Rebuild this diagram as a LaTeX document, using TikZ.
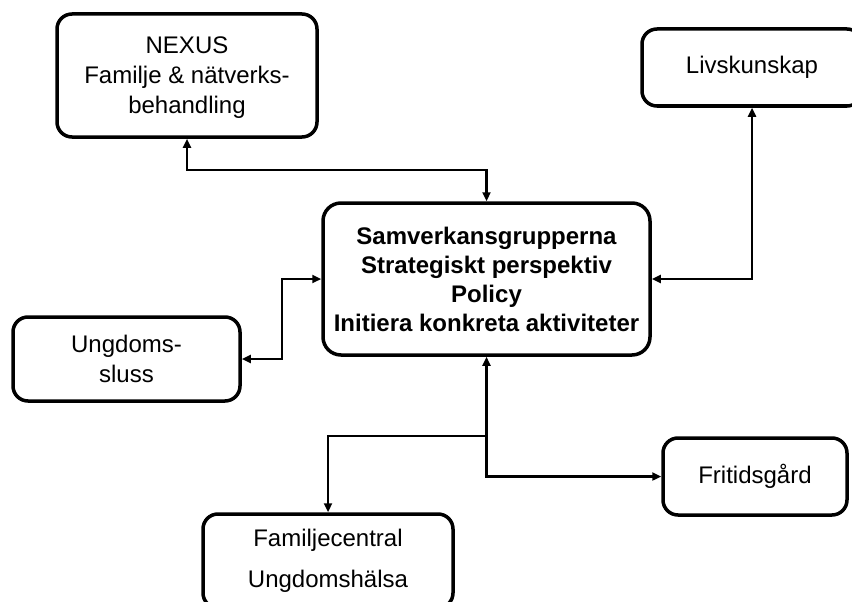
\documentclass[tikz,border=0pt]{standalone}
\usepackage{fontspec}
\setmainfont{Liberation Sans}
\usetikzlibrary{arrows.meta}
\tikzset{
  box/.style={draw, line width=3.5pt, rounded corners=15pt, align=center, inner sep=0pt,
    font=\fontsize{24}{30}\selectfont},
  conn/.style={line width=2.5pt, arrows={Triangle[length=9pt,width=8pt]-Triangle[length=9pt,width=8pt]}},
  conn1/.style={line width=2.5pt, -{Triangle[length=9pt,width=8pt]}}
}
\begin{document}
\begin{tikzpicture}[x=1pt,y=-1pt]
\useasboundingbox (0,0) rectangle (852,602);
\clip (0,0) rectangle (852,602);
\node[box, minimum width=260pt, minimum height=123pt, text depth=-2pt] (nexus) at (187,75.5)
  {NEXUS\\Familje \& nätverks-\\behandling};
\node[box, minimum width=220pt, minimum height=77pt] (liv) at (752,67.5) {Livskunskap};
\node[box, rounded corners=18pt, minimum width=327pt, minimum height=152pt,
  font=\fontsize{24}{29}\selectfont\bfseries] (center) at (486.5,279)
  {Samverkansgrupperna\\Strategiskt perspektiv\\Policy\\Initiera konkreta aktiviteter};
\node[box, minimum width=227pt, minimum height=84pt] (sluss) at (126.5,359) {Ungdoms-\\sluss};
\node[box, minimum width=184pt, minimum height=77pt] (frit) at (755,476.5) {Fritidsgård};
\node[box, minimum width=250pt, minimum height=94pt, font=\fontsize{24}{41}\selectfont] (fam) at (328,561)
  {Familjecentral\\Ungdomshälsa};
\coordinate (j1) at (486.5,170);
\coordinate (j2) at (282,359);
\coordinate (j3) at (486.5,436);
\draw[conn] (nexus.south) |- (j1) -- (center.north);
\draw[conn] (liv.south) |- (center.east);
\draw[conn] (sluss.east) -- (j2) |- (center.west);
\draw[conn] (center.south) |- (frit.west);
\draw[conn1] (j3) -| (fam.north);
\end{tikzpicture}
\end{document}
